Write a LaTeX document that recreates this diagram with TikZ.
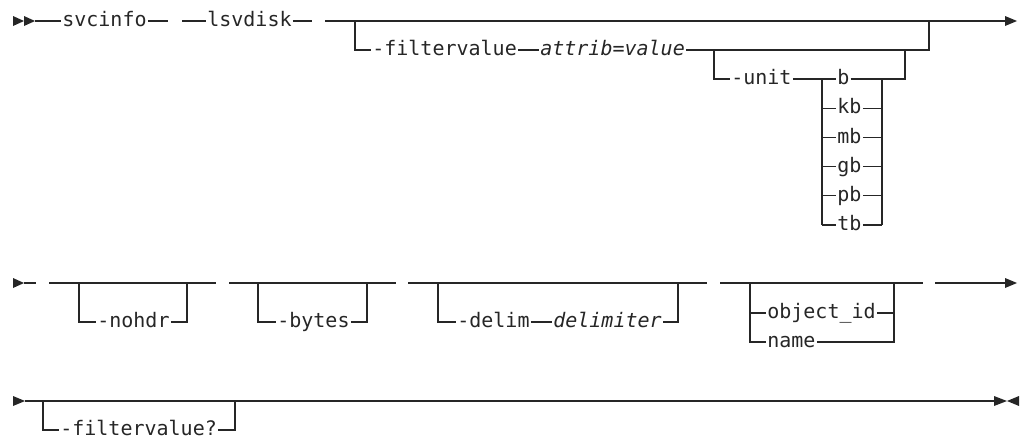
\documentclass[tikz,border=0pt]{standalone}
\usepackage{fontspec}
\setmonofont{DejaVu Sans Mono}
\usetikzlibrary{positioning}
\colorlet{ink}{black!85}
\newcommand{\railfont}{\fontsize{15}{18}\selectfont\ttfamily}

\begin{document}
\begin{tikzpicture}[x=0.75pt, y=-0.75pt,
    rail/.style={draw=ink, line width=1pt},
    tip/.style={fill=ink},
    kw/.style={anchor=west, inner xsep=0.8pt, inner ysep=0pt, text height=11.5pt, text depth=3pt, text=ink, font=\railfont},
    var/.style={kw, font=\railfont\itshape}
]
\useasboundingbox (0,0) rectangle (1022,439);

% first line: svcinfo lsvdisk [-filtervalue ...]
\coordinate (s1) at (35,21);
\coordinate (s2) at (168,21);
\coordinate (s3) at (182,21);
\coordinate (s4) at (312,21);
\coordinate (s5) at (325,21);
\coordinate (s6) at (1005,21);
\coordinate (fl) at (355,21);
\coordinate (fr) at (929,21);
\coordinate (ul) at (714,50);
\coordinate (ur) at (905,50);
\coordinate (bl) at (822,79);
\coordinate (br) at (882,79);
\fill[tip] (13,16) -- (24,21) -- (13,26) -- cycle;
\fill[tip] (24,16) -- (35,21) -- (24,26) -- cycle;
\node[kw] (svc) at (61,21) {svcinfo};
\node[kw] (lsv) at (206,21) {lsvdisk};
\draw[rail] (s1) -- (svc) (svc) -- (s2);
\draw[rail] (s3) -- (lsv) (lsv) -- (s4);
\draw[rail] (s5) -- (s6);
\fill[tip] (1005,16) -- (1017,21) -- (1005,26) -- cycle;
\node[kw] (fv) at (371,50) {-filtervalue};
\node[var] (attr) at (539,50) {attrib=value};
\draw[rail] (fl) |- (fv);
\draw[rail] (fv) -- (attr);
\draw[rail] (attr) -| (fr);
\node[kw] (unit) at (730,79) {-unit};
\draw[rail] (ul) |- (unit);
\draw[rail] (unit) -- (bl);
\draw[rail] (br) -| (ur);
\foreach \u [count=\i] in {b,kb,mb,gb,pb,tb} {
    \pgfmathsetmacro\yy{79+29.2*(\i-1)}
    \node[kw] (u\i) at (836,\yy) {\u};
    \draw[rail] (u\i -| bl) -- (u\i) (u\i) -- (u\i -| br);
}
\draw[rail] (bl) -- (bl |- u6);
\draw[rail] (br) -- (br |- u6);

% second line: -nohdr -bytes -delim object_id/name
\coordinate (t0) at (24,283);
\coordinate (t1) at (36,283);
\coordinate (g1a) at (49,283);
\coordinate (g1b) at (216,283);
\coordinate (n1) at (79,283);
\coordinate (n2) at (187,283);
\coordinate (g2a) at (229,283);
\coordinate (g2b) at (396,283);
\coordinate (b1) at (258,283);
\coordinate (b2) at (367,283);
\coordinate (g3a) at (408,283);
\coordinate (g3b) at (707,283);
\coordinate (d1) at (438,283);
\coordinate (d2) at (678,283);
\coordinate (g4a) at (720,283);
\coordinate (g4b) at (923,283);
\coordinate (o1) at (750,283);
\coordinate (o2) at (894,283);
\coordinate (e1) at (935,283);
\coordinate (e2) at (1005,283);
\fill[tip] (13,278) -- (24,283) -- (13,288) -- cycle;
\draw[rail] (t0) -- (t1);
\node[kw] (nohdr) at (96,322) {-nohdr};
\node[kw] (bytes) at (276,322) {-bytes};
\node[kw] (delim) at (456,322) {-delim};
\node[var] (dlm) at (552,322) {delimiter};
\node[kw] (objid) at (766,313) {object\_id};
\node[kw] (name) at (766,342) {name};
\draw[rail] (g1a) -- (g1b);
\draw[rail] (n1) |- (nohdr);
\draw[rail] (nohdr) -| (n2);
\draw[rail] (g2a) -- (g2b);
\draw[rail] (b1) |- (bytes);
\draw[rail] (bytes) -| (b2);
\draw[rail] (g3a) -- (g3b);
\draw[rail] (d1) |- (delim);
\draw[rail] (delim) -- (dlm);
\draw[rail] (dlm) -| (d2);
\draw[rail] (g4a) -- (g4b);
\draw[rail] (o1) |- (name);
\draw[rail] (objid -| o1) -- (objid);
\draw[rail] (objid) -- (objid -| o2);
\draw[rail] (name) -| (o2);
\draw[rail] (e1) -- (e2);
\fill[tip] (1005,278) -- (1017,283) -- (1005,288) -- cycle;

% third line: -filtervalue?
\coordinate (r0) at (25,401);
\coordinate (r1) at (994,401);
\coordinate (q1) at (43,401);
\coordinate (q2) at (235,401);
\fill[tip] (13,396) -- (25,401) -- (13,406) -- cycle;
\draw[rail] (r0) -- (r1);
\node[kw] (fvq) at (59,430) {-filtervalue?};
\draw[rail] (q1) |- (fvq);
\draw[rail] (fvq) -| (q2);
\fill[tip] (994,396) -- (1007,401) -- (994,406) -- cycle;
\fill[tip] (1019,396) -- (1007,401) -- (1019,406) -- cycle;
\end{tikzpicture}
\end{document}
